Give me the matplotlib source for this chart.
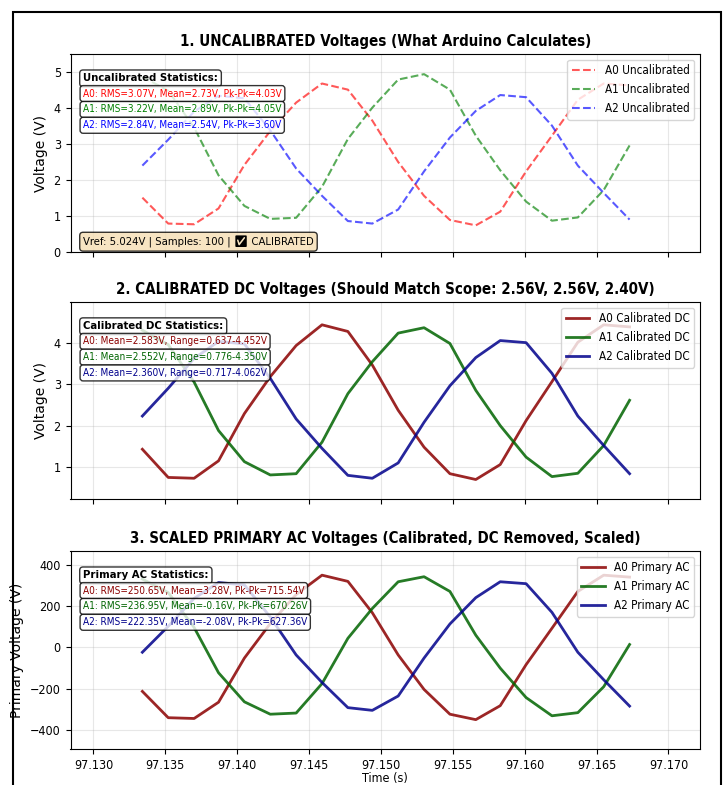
import os
import matplotlib
matplotlib.use('Agg')
import matplotlib.pyplot as plt
from matplotlib.patches import Rectangle
from matplotlib.ticker import FormatStrFormatter
from matplotlib import font_manager as fm
from matplotlib.font_manager import FontProperties

# ---------------- data ----------------
time_s = [97.1334, 97.1352, 97.1370, 97.1387, 97.1405, 97.1423, 97.1441, 97.1459,
          97.1477, 97.1494, 97.1512, 97.1530, 97.1548, 97.1566, 97.1583, 97.1601,
          97.1619, 97.1637, 97.1655, 97.1673]

a0_uncal = [1.51, 0.79, 0.77, 1.21, 2.42, 3.36, 4.15, 4.68, 4.51, 3.65,
            2.50, 1.56, 0.89, 0.74, 1.12, 2.24, 3.23, 4.23, 4.68, 4.63]
a1_uncal = [4.87, 4.48, 3.46, 2.13, 1.28, 0.92, 0.95, 1.81, 3.14, 4.01,
            4.79, 4.94, 4.51, 3.23, 2.27, 1.40, 0.87, 0.96, 1.72, 2.96]
a2_uncal = [2.40, 3.12, 3.90, 4.34, 4.27, 3.38, 2.32, 1.56, 0.86, 0.79,
            1.18, 2.24, 3.18, 3.92, 4.36, 4.30, 3.51, 2.40, 1.64, 0.90]

a0_cal = [1.43, 0.75, 0.73, 1.15, 2.29, 3.18, 3.93, 4.43, 4.27, 3.46,
          2.37, 1.48, 0.84, 0.70, 1.06, 2.12, 3.06, 4.01, 4.43, 4.38]
a1_cal = [4.30, 3.95, 3.05, 1.88, 1.13, 0.81, 0.84, 1.60, 2.77, 3.54,
          4.23, 4.36, 3.98, 2.85, 2.00, 1.24, 0.77, 0.85, 1.52, 2.61]
a2_cal = [2.23, 2.90, 3.62, 4.03, 3.97, 3.14, 2.16, 1.45, 0.80, 0.73,
          1.10, 2.08, 2.96, 3.64, 4.05, 4.00, 3.26, 2.23, 1.52, 0.84]

a0_ac = [-213.9, -341.4, -345.2, -266.4, -52.5, 114.4, 255.1, 348.9, 318.9, 167.0,
         -37.5, -204.5, -324.5, -350.8, -283.3, -84.4, 91.9, 270.1, 348.9, 339.6]
a1_ac = [330.2, 264.5, 95.7, -123.8, -264.5, -324.5, -318.9, -176.3, 43.1, 187.6,
         317.0, 341.4, 270.1, 58.2, -101.3, -243.9, -332.1, -317.0, -191.4, 13.1]
a2_ac = [-24.4, 101.3, 236.4, 313.3, 302.0, 146.3, -37.5, -170.7, -292.7, -305.8,
         -236.4, -52.5, 112.6, 240.1, 317.0, 307.7, 168.8, -24.4, -157.6, -285.2]

titles = ['1. UNCALIBRATED Voltages (What Arduino Calculates)',
          '2. CALIBRATED DC Voltages (Should Match Scope: 2.56V, 2.56V, 2.40V)',
          '3. SCALED PRIMARY AC Voltages (Calibrated, DC Removed, Scaled)']
labels_uncal = ['A0 Uncalibrated', 'A1 Uncalibrated', 'A2 Uncalibrated']
labels_cal = ['A0 Calibrated DC', 'A1 Calibrated DC', 'A2 Calibrated DC']
labels_ac = ['A0 Primary AC', 'A1 Primary AC', 'A2 Primary AC']

stats_headers = ['Uncalibrated Statistics:', 'Calibrated DC Statistics:', 'Primary AC Statistics:']
stats_uncal = ['A0: RMS=3.07V, Mean=2.73V, Pk-Pk=4.03V',
               'A1: RMS=3.22V, Mean=2.89V, Pk-Pk=4.05V',
               'A2: RMS=2.84V, Mean=2.54V, Pk-Pk=3.60V']
stats_cal = ['A0: Mean=2.583V, Range=0.637-4.452V',
             'A1: Mean=2.552V, Range=0.776-4.350V',
             'A2: Mean=2.360V, Range=0.717-4.062V']
stats_ac = ['A0: RMS=250.65V, Mean=3.28V, Pk-Pk=715.54V',
            'A1: RMS=236.95V, Mean=-0.16V, Pk-Pk=670.26V',
            'A2: RMS=222.35V, Mean=-2.08V, Pk-Pk=627.36V']
info_text = 'Vref: 5.024V | Samples: 100 | \u2705 CALIBRATED'

# ---------------- fonts (condensed look) ----------------
def find_file(target):
    for f in fm.fontManager.ttflist:
        if os.path.basename(f.fname).lower() == target:
            return f.fname
    return None

cond_reg = find_file('dejavusanscondensed.ttf')
cond_bold = find_file('dejavusanscondensed-bold.ttf')

if cond_reg and cond_bold:
    MODE = 'cond'
    K = 0.9
else:
    MODE = 'plain'
    K = 0.82


def fp(size, bold=False):
    if MODE == 'cond':
        return FontProperties(fname=cond_bold if bold else cond_reg, size=size * K)
    return FontProperties(family='DejaVu Sans', weight='bold' if bold else 'normal', size=size * K)


installed = {f.name for f in fm.fontManager.ttflist}
emoji_fams = [n for n in ('Noto Emoji', 'Noto Sans Symbols 2', 'Noto Sans Symbols',
                          'Symbola', 'OpenMoji', 'Twemoji Mozilla', 'Segoe UI Symbol')
              if n in installed]

# ---------------- figure ----------------
fig = plt.figure(figsize=(7.23, 7.85), dpi=100)
L, W = 70.5 / 723, 629.5 / 723
ax1 = fig.add_axes([L, 1 - 252 / 785, W, 198 / 785])
ax2 = fig.add_axes([L, 1 - 499 / 785, W, 197 / 785], sharex=ax1)
ax3 = fig.add_axes([L, 1 - 749 / 785, W, 198 / 785], sharex=ax1)

c_uncal = ['red', 'green', 'blue']
c_dark = ['darkred', 'darkgreen', 'darkblue']

for y, lab, c in zip([a0_uncal, a1_uncal, a2_uncal], labels_uncal, c_uncal):
    ax1.plot(time_s, y, '--', color=c, alpha=0.65, lw=1.5, label=lab)
for y, lab, c in zip([a0_cal, a1_cal, a2_cal], labels_cal, c_dark):
    ax2.plot(time_s, y, '-', color=c, alpha=0.85, lw=2, label=lab)
for y, lab, c in zip([a0_ac, a1_ac, a2_ac], labels_ac, c_dark):
    ax3.plot(time_s, y, '-', color=c, alpha=0.85, lw=2, label=lab)

ax1.set_xlim(97.1284, 97.1722)
ax1.set_xticks([97.130, 97.135, 97.140, 97.145, 97.150, 97.155, 97.160, 97.165, 97.170])
ax3.xaxis.set_major_formatter(FormatStrFormatter('%.3f'))
ax1.set_ylim(0, 5.5)
ax1.set_yticks([0, 1, 2, 3, 4, 5])
ax2.set_ylim(0.23, 4.98)
ax2.set_yticks([1, 2, 3, 4])
ax3.set_ylim(-493, 466)
ax3.set_yticks([-400, -200, 0, 200, 400])

for ax in (ax1, ax2):
    ax.tick_params(labelbottom=False)

ylabels = ['Voltage (V)', 'Voltage (V)', 'Primary Voltage (V)']
stats_all = [stats_uncal, stats_cal, stats_ac]
for ax, title, ylab, head, stats, cols in zip(
        (ax1, ax2, ax3), titles, ylabels, stats_headers, stats_all,
        [c_uncal, c_dark, c_dark]):
    ax.set_title(title, fontproperties=fp(12, True), pad=6)
    ax.set_ylabel(ylab, fontsize=10, family='DejaVu Sans')
    ax.grid(True, alpha=0.3)
    ax.legend(loc='upper right', prop=fp(9.3))
    ax.text(0.02, 0.877, head, transform=ax.transAxes, va='center', ha='left',
            fontproperties=fp(9, True),
            bbox=dict(boxstyle='round', facecolor='white', alpha=0.8))
    for i, (s, c) in enumerate(zip(stats, cols)):
        ax.text(0.02, 0.80 - 0.08 * i, s, transform=ax.transAxes, va='center', ha='left',
                color=c, fontproperties=fp(8),
                bbox=dict(boxstyle='round', facecolor='white', alpha=0.8))
    for lbl in ax.get_xticklabels() + ax.get_yticklabels():
        lbl.set_fontproperties(fp(10))

info_fp = FontProperties(family=['DejaVu Sans'] + emoji_fams + ['DejaVu Sans'],
                         stretch='condensed', size=9 * K)
info_artist = ax1.text(0.02, 0.052, info_text, transform=ax1.transAxes, va='center',
                       ha='left', fontproperties=info_fp,
                       bbox=dict(boxstyle='round', facecolor='wheat', alpha=0.8))

ax3.set_xlabel('Time (s)', fontproperties=fp(10), labelpad=0)

fig.patches.append(Rectangle((12.5 / 723, -0.05), (721 - 12.5) / 723, 773.5 / 785 + 0.05,
                             transform=fig.transFigure, fill=False, edgecolor='black',
                             lw=1.5, clip_on=False))

try:
    fig.savefig('out.png', dpi=100)
except Exception:
    info_artist.set_fontproperties(fp(9))
    fig.savefig('out.png', dpi=100)
